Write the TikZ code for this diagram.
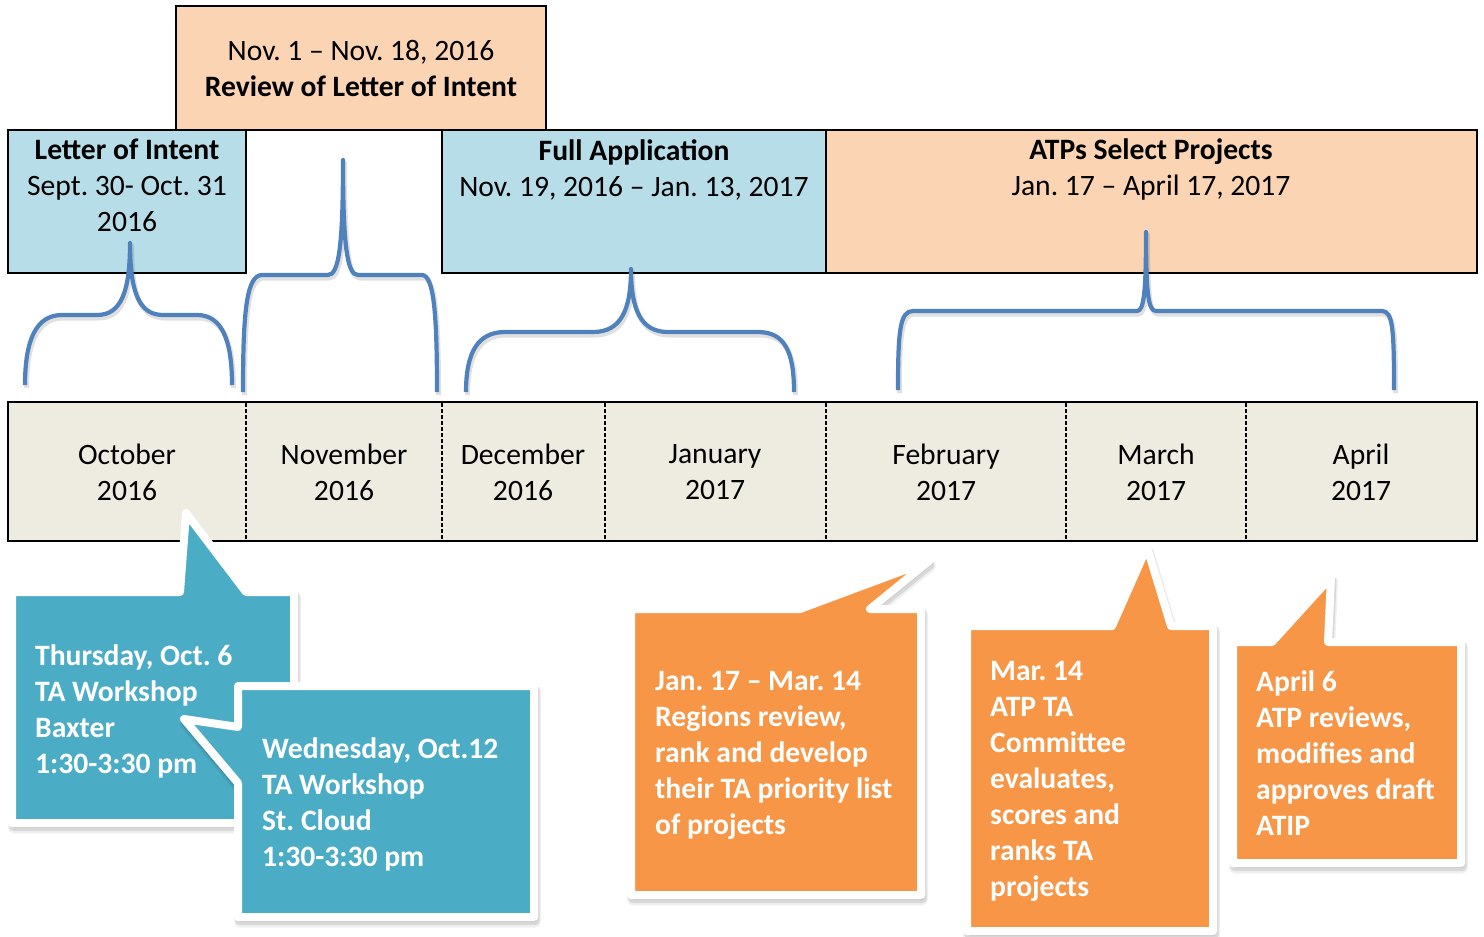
\documentclass[tikz,border=0pt]{standalone}
\usepackage{fontspec}
\setmainfont{Carlito}
\frenchspacing
\definecolor{phaseblue}{HTML}{B7DDE8}
\definecolor{phasepeach}{HTML}{FBD4B4}
\definecolor{monthfill}{HTML}{EEECE1}
\definecolor{bracecol}{HTML}{4F81BD}
\definecolor{teal}{HTML}{4BACC6}
\definecolor{calloutorange}{HTML}{F79646}
\newcommand\bigtxt{\fontsize{29.6}{36}\selectfont}
\tikzset{
  phasebox/.style={draw=black, line width=2, inner sep=0, outer sep=0, anchor=north west},
  strutted/.style={inner sep=0, execute at begin node=\strut, execute at end node=\strut},
  boxtext/.style={strutted, font=\bigtxt, align=center, text=black, anchor=north},
  monthtext/.style={strutted, font=\bigtxt, align=center, text=black, anchor=north},
  divider/.style={draw=black, line width=1.5, dash pattern=on 4 off 2},
  brace/.style={draw=bracecol, line width=4.2, line join=round,
    preaction={draw=black, opacity=0.12, line width=5, line join=round, transform canvas={xshift=1.5pt, yshift=-3pt}}},
  callout/.style={draw=white, line width=8, line join=round,
    preaction={fill=black, draw=black, line width=8, line join=round, opacity=0.10, transform canvas={xshift=1.5pt, yshift=-4pt}},
    preaction={fill=black, draw=black, line width=11, line join=round, opacity=0.06, transform canvas={xshift=1.5pt, yshift=-5pt}}},
  callouttext/.style={strutted, font=\bigtxt\bfseries, align=left, text=white, anchor=north west},
}
\begin{document}
\begin{tikzpicture}[x=1pt, y=-1pt]
\useasboundingbox (0,0) rectangle (1484,937);

% phase boxes
\node[phasebox, fill=phasepeach, minimum width=370, minimum height=124] (review) at (176,6) {};
\node[phasebox, fill=phaseblue, minimum width=238, minimum height=143] (loi) at (8,130) {};
\node[phasebox, fill=phaseblue, minimum width=384, minimum height=143] (fullapp) at (442,130) {};
\node[phasebox, fill=phasepeach, minimum width=651, minimum height=143] (atp) at (826,130) {};

% text blocks: anchored 10 units above the middle of their first line
\node[boxtext] (reviewtxt) at (361,40) {Nov. 1 -- Nov. 18, 2016\\ \textbf{Review of Letter of Intent}};
\node[boxtext] (loitxt) at (127,139) {\textbf{Letter of Intent}\\ Sept. 30- Oct. 31\\ 2016};
\node[boxtext] (fullapptxt) at (634,139) {\textbf{Full Application}\\ Nov. 19, 2016 -- Jan. 13, 2017};
\node[boxtext] (atptxt) at (1151,139) {\textbf{ATPs Select Projects}\\ Jan. 17 -- April 17, 2017};

% month strip
\node[phasebox, fill=monthfill, minimum width=1469, minimum height=139] (months) at (8,402) {};
\foreach \x in {246,442,605,826,1066,1246}
  \draw[divider] (\x,403) -- (\x,540);
\node[monthtext] (oct) at (127,444) {October\\ 2016};
\node[monthtext] (nov) at (344,444) {November\\ 2016};
\node[monthtext] (dec) at (523,444) {December\\ 2016};
\node[monthtext] (jan) at (715,444) {January\\ 2017};
\node[monthtext] (feb) at (946,444) {February\\ 2017};
\node[monthtext] (mar) at (1156,444) {March\\ 2017};
\node[monthtext] (apr) at (1361,444) {April\\ 2017};

% braces spanning the months of each phase
\draw[brace] (25,385) .. controls (25,340) and (36,315) .. (62,315) -- (97,315)
  .. controls (121,315) and (130,292) .. (130,243)
  .. controls (130,292) and (139,315) .. (163,315) -- (197,315)
  .. controls (222,315) and (232,340) .. (232,385);
\draw[brace] (243,392) .. controls (243,315) and (246,275) .. (262,275) -- (328,275)
  .. controls (339,275) and (343,245) .. (343,160)
  .. controls (343,245) and (347,275) .. (358,275) -- (422,275)
  .. controls (434,275) and (437,315) .. (437,392);
\draw[brace] (466,392) .. controls (466,352) and (478,332) .. (505,332) -- (593,332)
  .. controls (621,332) and (631,310) .. (631,269)
  .. controls (631,310) and (641,332) .. (668,332) -- (758,332)
  .. controls (785,332) and (794,352) .. (794,392);
\draw[brace] (898,390) .. controls (898,330) and (900,311) .. (913,311) -- (1137,311)
  .. controls (1144,311) and (1146,292) .. (1146,232)
  .. controls (1146,292) and (1148,311) .. (1156,311) -- (1382,311)
  .. controls (1393,311) and (1394,330) .. (1394,390);

% workshop callouts
\draw[callout, fill=teal] (12,592) -- (180,592) -- (186,513) -- (246,592) -- (294,592)
  -- (294,823) -- (12,823) -- cycle;
\node[callouttext] (thu) at (35,645) {Thursday, Oct. 6\\ TA Workshop\\ Baxter\\ 1:30-3:30 pm};
\draw[callout, fill=teal] (238,686) -- (534,686) -- (534,917) -- (238,917) -- (238,783)
  -- (184,719) -- (238,727) -- cycle;
\node[callouttext] (wed) at (262,738) {Wednesday, Oct.12\\ TA Workshop\\ St. Cloud\\ 1:30-3:30 pm};

% review and approval callouts
\draw[callout, fill=calloutorange] (631,609) -- (800,609) -- (929,561) -- (870,609) -- (921,609)
  -- (921,895) -- (631,895) -- cycle;
\node[callouttext] (regions) at (655,671) {Jan. 17 -- Mar. 14\\ Regions review,\\ rank and develop\\ their TA priority list\\ of projects};
\draw[callout, fill=calloutorange] (967,626) -- (1112,626) -- (1147,547) -- (1171,626) -- (1213,626)
  -- (1213,931) -- (967,931) -- cycle;
\node[callouttext] (committee) at (990,661) {Mar. 14\\ ATP TA\\ Committee\\ evaluates,\\ scores and\\ ranks TA\\ projects};
\draw[callout, fill=calloutorange] (1233,642) -- (1272,642) -- (1331,577) -- (1328,642) -- (1461,642)
  -- (1461,863) -- (1233,863) -- cycle;
\node[callouttext] (approve) at (1256,671) {April 6\\ ATP reviews,\\ modifies and\\ approves draft\\ ATIP};
\end{tikzpicture}
\end{document}
